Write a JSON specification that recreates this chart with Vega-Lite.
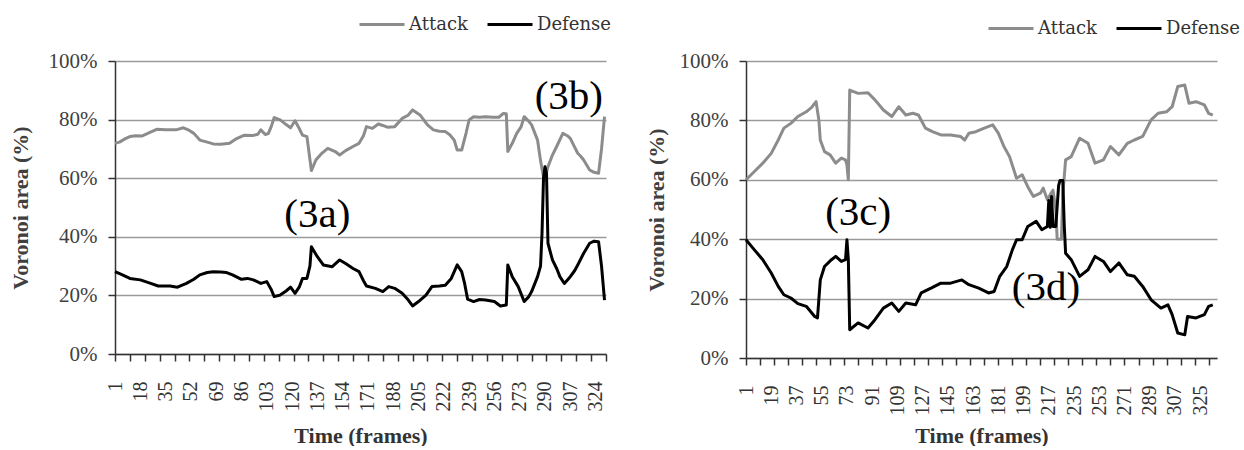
{
  "$schema": "https://vega.github.io/schema/vega-lite/v6.json",
  "autosize": {"type": "pad"},
  "padding": {"left": 9, "top": 0, "right": 0, "bottom": 0},
  "bounds": "flush",
  "spacing": 140,
  "background": "white",
  "config": {
    "view": {"stroke": null},
    "axis": {"labelFont": "Liberation Serif, Tinos, Times New Roman, serif", "titleFont": "Liberation Serif, Tinos, Times New Roman, serif"},
    "legend": {"padding": 0}
  },
  "datasets": {
    "left": [
      {"frame":1,"series":"Attack","value":0.719},{"frame":4,"series":"Attack","value":0.723},{"frame":8,"series":"Attack","value":0.735},{"frame":11,"series":"Attack","value":0.742},{"frame":15,"series":"Attack","value":0.745},{"frame":19,"series":"Attack","value":0.744},{"frame":23,"series":"Attack","value":0.753},{"frame":29,"series":"Attack","value":0.767},{"frame":35,"series":"Attack","value":0.765},{"frame":42,"series":"Attack","value":0.765},{"frame":47,"series":"Attack","value":0.772},{"frame":51,"series":"Attack","value":0.763},{"frame":54,"series":"Attack","value":0.753},{"frame":58,"series":"Attack","value":0.730},{"frame":63,"series":"Attack","value":0.723},{"frame":67,"series":"Attack","value":0.717},{"frame":72,"series":"Attack","value":0.716},{"frame":78,"series":"Attack","value":0.719},{"frame":82,"series":"Attack","value":0.733},{"frame":88,"series":"Attack","value":0.747},{"frame":94,"series":"Attack","value":0.746},{"frame":97,"series":"Attack","value":0.750},{"frame":99,"series":"Attack","value":0.765},{"frame":102,"series":"Attack","value":0.749},{"frame":104,"series":"Attack","value":0.752},{"frame":106,"series":"Attack","value":0.776},{"frame":108,"series":"Attack","value":0.807},{"frame":112,"series":"Attack","value":0.799},{"frame":116,"series":"Attack","value":0.783},{"frame":119,"series":"Attack","value":0.772},{"frame":122,"series":"Attack","value":0.796},{"frame":125,"series":"Attack","value":0.768},{"frame":127,"series":"Attack","value":0.747},{"frame":130,"series":"Attack","value":0.742},{"frame":133,"series":"Attack","value":0.626},{"frame":136,"series":"Attack","value":0.662},{"frame":140,"series":"Attack","value":0.685},{"frame":144,"series":"Attack","value":0.702},{"frame":149,"series":"Attack","value":0.691},{"frame":152,"series":"Attack","value":0.679},{"frame":156,"series":"Attack","value":0.694},{"frame":161,"series":"Attack","value":0.708},{"frame":165,"series":"Attack","value":0.719},{"frame":168,"series":"Attack","value":0.745},{"frame":170,"series":"Attack","value":0.776},{"frame":174,"series":"Attack","value":0.770},{"frame":178,"series":"Attack","value":0.785},{"frame":181,"series":"Attack","value":0.780},{"frame":184,"series":"Attack","value":0.774},{"frame":189,"series":"Attack","value":0.776},{"frame":194,"series":"Attack","value":0.804},{"frame":198,"series":"Attack","value":0.815},{"frame":201,"series":"Attack","value":0.833},{"frame":206,"series":"Attack","value":0.816},{"frame":211,"series":"Attack","value":0.782},{"frame":215,"series":"Attack","value":0.765},{"frame":219,"series":"Attack","value":0.760},{"frame":223,"series":"Attack","value":0.759},{"frame":226,"series":"Attack","value":0.748},{"frame":229,"series":"Attack","value":0.730},{"frame":231,"series":"Attack","value":0.696},{"frame":234,"series":"Attack","value":0.696},{"frame":237,"series":"Attack","value":0.755},{"frame":239,"series":"Attack","value":0.799},{"frame":242,"series":"Attack","value":0.810},{"frame":246,"series":"Attack","value":0.808},{"frame":250,"series":"Attack","value":0.810},{"frame":255,"series":"Attack","value":0.808},{"frame":259,"series":"Attack","value":0.808},{"frame":262,"series":"Attack","value":0.821},{"frame":264,"series":"Attack","value":0.820},{"frame":265,"series":"Attack","value":0.691},{"frame":268,"series":"Attack","value":0.719},{"frame":271,"series":"Attack","value":0.753},{"frame":274,"series":"Attack","value":0.776},{"frame":276,"series":"Attack","value":0.810},{"frame":279,"series":"Attack","value":0.795},{"frame":281,"series":"Attack","value":0.782},{"frame":285,"series":"Attack","value":0.730},{"frame":287,"series":"Attack","value":0.660},{"frame":289,"series":"Attack","value":0.605},{"frame":291,"series":"Attack","value":0.620},{"frame":292,"series":"Attack","value":0.639},{"frame":295,"series":"Attack","value":0.679},{"frame":298,"series":"Attack","value":0.710},{"frame":302,"series":"Attack","value":0.753},{"frame":305,"series":"Attack","value":0.745},{"frame":307,"series":"Attack","value":0.736},{"frame":310,"series":"Attack","value":0.705},{"frame":312,"series":"Attack","value":0.685},{"frame":314,"series":"Attack","value":0.675},{"frame":316,"series":"Attack","value":0.662},{"frame":318,"series":"Attack","value":0.645},{"frame":320,"series":"Attack","value":0.628},{"frame":323,"series":"Attack","value":0.620},{"frame":326,"series":"Attack","value":0.617},{"frame":328,"series":"Attack","value":0.700},{"frame":330,"series":"Attack","value":0.810},
      {"frame":1,"series":"Defense","value":0.281},{"frame":6,"series":"Defense","value":0.270},{"frame":11,"series":"Defense","value":0.258},{"frame":18,"series":"Defense","value":0.253},{"frame":25,"series":"Defense","value":0.241},{"frame":30,"series":"Defense","value":0.232},{"frame":38,"series":"Defense","value":0.232},{"frame":43,"series":"Defense","value":0.228},{"frame":49,"series":"Defense","value":0.241},{"frame":54,"series":"Defense","value":0.255},{"frame":58,"series":"Defense","value":0.270},{"frame":63,"series":"Defense","value":0.278},{"frame":67,"series":"Defense","value":0.281},{"frame":72,"series":"Defense","value":0.280},{"frame":76,"series":"Defense","value":0.278},{"frame":80,"series":"Defense","value":0.270},{"frame":86,"series":"Defense","value":0.255},{"frame":90,"series":"Defense","value":0.258},{"frame":94,"series":"Defense","value":0.253},{"frame":99,"series":"Defense","value":0.241},{"frame":103,"series":"Defense","value":0.247},{"frame":106,"series":"Defense","value":0.220},{"frame":108,"series":"Defense","value":0.196},{"frame":112,"series":"Defense","value":0.201},{"frame":116,"series":"Defense","value":0.215},{"frame":119,"series":"Defense","value":0.228},{"frame":122,"series":"Defense","value":0.207},{"frame":125,"series":"Defense","value":0.230},{"frame":127,"series":"Defense","value":0.258},{"frame":130,"series":"Defense","value":0.258},{"frame":132,"series":"Defense","value":0.300},{"frame":133,"series":"Defense","value":0.366},{"frame":137,"series":"Defense","value":0.332},{"frame":141,"series":"Defense","value":0.304},{"frame":147,"series":"Defense","value":0.298},{"frame":152,"series":"Defense","value":0.321},{"frame":156,"series":"Defense","value":0.309},{"frame":161,"series":"Defense","value":0.292},{"frame":165,"series":"Defense","value":0.281},{"frame":168,"series":"Defense","value":0.250},{"frame":170,"series":"Defense","value":0.232},{"frame":176,"series":"Defense","value":0.224},{"frame":181,"series":"Defense","value":0.213},{"frame":185,"series":"Defense","value":0.230},{"frame":189,"series":"Defense","value":0.224},{"frame":194,"series":"Defense","value":0.207},{"frame":198,"series":"Defense","value":0.185},{"frame":201,"series":"Defense","value":0.164},{"frame":205,"series":"Defense","value":0.179},{"frame":210,"series":"Defense","value":0.201},{"frame":214,"series":"Defense","value":0.230},{"frame":219,"series":"Defense","value":0.232},{"frame":223,"series":"Defense","value":0.235},{"frame":227,"series":"Defense","value":0.258},{"frame":231,"series":"Defense","value":0.304},{"frame":234,"series":"Defense","value":0.281},{"frame":236,"series":"Defense","value":0.240},{"frame":238,"series":"Defense","value":0.187},{"frame":242,"series":"Defense","value":0.179},{"frame":246,"series":"Defense","value":0.186},{"frame":250,"series":"Defense","value":0.184},{"frame":256,"series":"Defense","value":0.179},{"frame":260,"series":"Defense","value":0.164},{"frame":264,"series":"Defense","value":0.167},{"frame":265,"series":"Defense","value":0.304},{"frame":268,"series":"Defense","value":0.264},{"frame":272,"series":"Defense","value":0.230},{"frame":276,"series":"Defense","value":0.179},{"frame":279,"series":"Defense","value":0.195},{"frame":281,"series":"Defense","value":0.213},{"frame":285,"series":"Defense","value":0.264},{"frame":287,"series":"Defense","value":0.300},{"frame":288,"series":"Defense","value":0.412},{"frame":289,"series":"Defense","value":0.600},{"frame":290,"series":"Defense","value":0.639},{"frame":291,"series":"Defense","value":0.617},{"frame":292,"series":"Defense","value":0.378},{"frame":295,"series":"Defense","value":0.321},{"frame":298,"series":"Defense","value":0.290},{"frame":300,"series":"Defense","value":0.264},{"frame":303,"series":"Defense","value":0.241},{"frame":307,"series":"Defense","value":0.264},{"frame":310,"series":"Defense","value":0.285},{"frame":312,"series":"Defense","value":0.304},{"frame":316,"series":"Defense","value":0.344},{"frame":320,"series":"Defense","value":0.378},{"frame":323,"series":"Defense","value":0.385},{"frame":326,"series":"Defense","value":0.383},{"frame":328,"series":"Defense","value":0.300},{"frame":330,"series":"Defense","value":0.184}
    ],
    "right": [
      {"frame":1,"series":"Attack","value":0.600},{"frame":7,"series":"Attack","value":0.628},{"frame":13,"series":"Attack","value":0.656},{"frame":19,"series":"Attack","value":0.689},{"frame":24,"series":"Attack","value":0.734},{"frame":28,"series":"Attack","value":0.774},{"frame":33,"series":"Attack","value":0.790},{"frame":38,"series":"Attack","value":0.813},{"frame":44,"series":"Attack","value":0.829},{"frame":48,"series":"Attack","value":0.845},{"frame":51,"series":"Attack","value":0.863},{"frame":53,"series":"Attack","value":0.800},{"frame":54,"series":"Attack","value":0.734},{"frame":57,"series":"Attack","value":0.695},{"frame":61,"series":"Attack","value":0.684},{"frame":65,"series":"Attack","value":0.656},{"frame":69,"series":"Attack","value":0.673},{"frame":72,"series":"Attack","value":0.667},{"frame":73,"series":"Attack","value":0.650},{"frame":74,"series":"Attack","value":0.600},{"frame":75,"series":"Attack","value":0.902},{"frame":81,"series":"Attack","value":0.891},{"frame":88,"series":"Attack","value":0.893},{"frame":93,"series":"Attack","value":0.869},{"frame":99,"series":"Attack","value":0.835},{"frame":105,"series":"Attack","value":0.813},{"frame":110,"series":"Attack","value":0.846},{"frame":115,"series":"Attack","value":0.818},{"frame":120,"series":"Attack","value":0.824},{"frame":124,"series":"Attack","value":0.818},{"frame":129,"series":"Attack","value":0.774},{"frame":134,"series":"Attack","value":0.762},{"frame":140,"series":"Attack","value":0.751},{"frame":147,"series":"Attack","value":0.751},{"frame":154,"series":"Attack","value":0.746},{"frame":157,"series":"Attack","value":0.734},{"frame":160,"series":"Attack","value":0.757},{"frame":165,"series":"Attack","value":0.762},{"frame":171,"series":"Attack","value":0.774},{"frame":177,"series":"Attack","value":0.785},{"frame":181,"series":"Attack","value":0.757},{"frame":185,"series":"Attack","value":0.712},{"frame":189,"series":"Attack","value":0.678},{"frame":194,"series":"Attack","value":0.605},{"frame":198,"series":"Attack","value":0.617},{"frame":202,"series":"Attack","value":0.577},{"frame":206,"series":"Attack","value":0.544},{"frame":211,"series":"Attack","value":0.555},{"frame":213,"series":"Attack","value":0.572},{"frame":216,"series":"Attack","value":0.533},{"frame":218,"series":"Attack","value":0.550},{"frame":220,"series":"Attack","value":0.565},{"frame":222,"series":"Attack","value":0.500},{"frame":223,"series":"Attack","value":0.400},{"frame":226,"series":"Attack","value":0.400},{"frame":227,"series":"Attack","value":0.550},{"frame":229,"series":"Attack","value":0.667},{"frame":233,"series":"Attack","value":0.678},{"frame":239,"series":"Attack","value":0.740},{"frame":245,"series":"Attack","value":0.723},{"frame":250,"series":"Attack","value":0.656},{"frame":256,"series":"Attack","value":0.667},{"frame":261,"series":"Attack","value":0.712},{"frame":267,"series":"Attack","value":0.684},{"frame":273,"series":"Attack","value":0.723},{"frame":278,"series":"Attack","value":0.734},{"frame":284,"series":"Attack","value":0.746},{"frame":290,"series":"Attack","value":0.802},{"frame":295,"series":"Attack","value":0.824},{"frame":301,"series":"Attack","value":0.829},{"frame":305,"series":"Attack","value":0.846},{"frame":309,"series":"Attack","value":0.914},{"frame":314,"series":"Attack","value":0.919},{"frame":317,"series":"Attack","value":0.858},{"frame":322,"series":"Attack","value":0.863},{"frame":328,"series":"Attack","value":0.852},{"frame":331,"series":"Attack","value":0.824},{"frame":334,"series":"Attack","value":0.818},
      {"frame":1,"series":"Defense","value":0.398},{"frame":7,"series":"Defense","value":0.364},{"frame":13,"series":"Defense","value":0.331},{"frame":19,"series":"Defense","value":0.286},{"frame":24,"series":"Defense","value":0.241},{"frame":28,"series":"Defense","value":0.213},{"frame":33,"series":"Defense","value":0.202},{"frame":38,"series":"Defense","value":0.183},{"frame":44,"series":"Defense","value":0.174},{"frame":50,"series":"Defense","value":0.140},{"frame":52,"series":"Defense","value":0.135},{"frame":54,"series":"Defense","value":0.263},{"frame":57,"series":"Defense","value":0.308},{"frame":62,"series":"Defense","value":0.331},{"frame":65,"series":"Defense","value":0.342},{"frame":69,"series":"Defense","value":0.325},{"frame":72,"series":"Defense","value":0.331},{"frame":73,"series":"Defense","value":0.398},{"frame":74,"series":"Defense","value":0.331},{"frame":75,"series":"Defense","value":0.095},{"frame":81,"series":"Defense","value":0.118},{"frame":88,"series":"Defense","value":0.101},{"frame":93,"series":"Defense","value":0.129},{"frame":99,"series":"Defense","value":0.168},{"frame":105,"series":"Defense","value":0.185},{"frame":110,"series":"Defense","value":0.157},{"frame":115,"series":"Defense","value":0.185},{"frame":122,"series":"Defense","value":0.179},{"frame":126,"series":"Defense","value":0.219},{"frame":133,"series":"Defense","value":0.235},{"frame":140,"series":"Defense","value":0.252},{"frame":147,"series":"Defense","value":0.252},{"frame":155,"series":"Defense","value":0.263},{"frame":160,"series":"Defense","value":0.247},{"frame":167,"series":"Defense","value":0.235},{"frame":174,"series":"Defense","value":0.219},{"frame":178,"series":"Defense","value":0.224},{"frame":182,"series":"Defense","value":0.275},{"frame":187,"series":"Defense","value":0.308},{"frame":191,"series":"Defense","value":0.364},{"frame":194,"series":"Defense","value":0.398},{"frame":198,"series":"Defense","value":0.398},{"frame":202,"series":"Defense","value":0.443},{"frame":208,"series":"Defense","value":0.460},{"frame":212,"series":"Defense","value":0.432},{"frame":216,"series":"Defense","value":0.443},{"frame":217,"series":"Defense","value":0.530},{"frame":218,"series":"Defense","value":0.440},{"frame":219,"series":"Defense","value":0.544},{"frame":220,"series":"Defense","value":0.443},{"frame":222,"series":"Defense","value":0.443},{"frame":224,"series":"Defense","value":0.580},{"frame":225,"series":"Defense","value":0.598},{"frame":227,"series":"Defense","value":0.598},{"frame":228,"series":"Defense","value":0.450},{"frame":229,"series":"Defense","value":0.353},{"frame":233,"series":"Defense","value":0.331},{"frame":239,"series":"Defense","value":0.275},{"frame":245,"series":"Defense","value":0.297},{"frame":250,"series":"Defense","value":0.342},{"frame":256,"series":"Defense","value":0.325},{"frame":261,"series":"Defense","value":0.291},{"frame":267,"series":"Defense","value":0.320},{"frame":273,"series":"Defense","value":0.280},{"frame":278,"series":"Defense","value":0.275},{"frame":284,"series":"Defense","value":0.241},{"frame":290,"series":"Defense","value":0.196},{"frame":297,"series":"Defense","value":0.168},{"frame":302,"series":"Defense","value":0.179},{"frame":305,"series":"Defense","value":0.146},{"frame":309,"series":"Defense","value":0.084},{"frame":314,"series":"Defense","value":0.078},{"frame":316,"series":"Defense","value":0.140},{"frame":322,"series":"Defense","value":0.135},{"frame":328,"series":"Defense","value":0.146},{"frame":331,"series":"Defense","value":0.174},{"frame":334,"series":"Defense","value":0.179}
    ],
    "leftNotes": [
      {"frame":137,"value":0.474,"label":"(3a)"},
      {"frame":306,"value":0.877,"label":"(3b)"}
    ],
    "rightNotes": [
      {"frame":81,"value":0.488,"label":"(3c)"},
      {"frame":215,"value":0.236,"label":"(3d)"}
    ]
  },
  "resolve": {
    "scale": {"color": "independent", "x": "independent", "y": "independent"},
    "legend": {"color": "independent"}
  },
  "hconcat": [
    {
      "width": 491,
      "height": 293,
      "resolve": {"axis": {"x": "independent"}},
      "layer": [
        {
          "data": {"name": "left"},
          "mark": {"type": "line", "strokeWidth": 3, "strokeJoin": "round"},
          "encoding": {
            "x": {
              "field": "frame", "type": "quantitative",
              "scale": {"domain": [1, 331], "nice": false, "zero": false},
              "axis": {
                "orient": "bottom",
                "values": [1,18,35,52,69,86,103,120,137,154,171,188,205,222,239,256,273,290,307,324],
                "ticks": false, "grid": false,
                "domain": true, "domainColor": "#333333", "domainWidth": 1.5,
                "labelAngle": 270, "labelFontSize": 20, "labelColor": "#333333", "labelPadding": 27,
                "labelOverlap": false, "labelBound": false, "labelFlush": false,
                "title": "Time (frames)", "titleFontSize": 22, "titleFontWeight": "bold", "titleColor": "#333333", "titlePadding": 14
              }
            },
            "y": {
              "field": "value", "type": "quantitative",
              "scale": {"domain": [0, 1], "nice": false},
              "axis": {
                "values": [0, 0.2, 0.4, 0.6, 0.8, 1],
                "format": ".0%",
                "grid": true, "gridColor": "#9a9a9a", "gridWidth": 1.5,
                "domain": true, "domainColor": "#333333", "domainWidth": 1.5,
                "ticks": true, "tickSize": 7, "tickColor": "#333333", "tickWidth": 1.5,
                "labelFontSize": 21, "labelColor": "#404040", "labelPadding": 11,
                "title": "Voronoi area (%)", "titleFontSize": 22, "titleFontWeight": "bold", "titleColor": "#404040", "titlePadding": 16
              }
            },
            "color": {
              "field": "series", "type": "nominal",
              "scale": {"domain": ["Attack", "Defense"], "range": ["#8c8c8c", "#000000"]},
              "legend": {
                "orient": "none", "legendX": 243, "legendY": -60.5, "direction": "horizontal",
                "title": null, "symbolType": "stroke", "symbolSize": 2025, "symbolStrokeWidth": 3,
                "labelFont": "DejaVu Serif", "labelFontSize": 18, "labelColor": "#333333",
                "labelOffset": 3, "columnPadding": 13
              }
            }
          }
        },
        {
          "data": {"name": "leftNotes"},
          "mark": {"type": "text", "font": "Liberation Serif, Tinos, Times New Roman, serif", "fontSize": 41, "align": "center", "baseline": "middle", "color": "#000000"},
          "encoding": {
            "x": {
              "field": "frame", "type": "quantitative",
              "scale": {"domain": [1, 331], "nice": false, "zero": false},
              "axis": {
                "orient": "bottom",
                "values": [1,11,21,31,41,51,61,71,81,91,101,111,121,131,141,151,161,171,181,191,201,211,221,231,241,251,261,271,281,291,301,311,321,331],
                "labels": false, "domain": false, "grid": false, "title": null,
                "ticks": true, "tickSize": 7, "tickColor": "#333333", "tickWidth": 1.5
              }
            },
            "y": {"field": "value", "type": "quantitative", "scale": {"domain": [0, 1], "nice": false}, "title": "Voronoi area (%)"},
            "text": {"field": "label"}
          }
        }
      ]
    },
    {
      "width": 471,
      "height": 297,
      "resolve": {"axis": {"x": "independent"}},
      "layer": [
        {
          "data": {"name": "right"},
          "mark": {"type": "line", "strokeWidth": 3, "strokeJoin": "round"},
          "encoding": {
            "x": {
              "field": "frame", "type": "quantitative",
              "scale": {"domain": [1, 337], "nice": false, "zero": false},
              "axis": {
                "orient": "bottom",
                "values": [1,19,37,55,73,91,109,127,145,163,181,199,217,235,253,271,289,307,325],
                "ticks": false, "grid": false,
                "domain": true, "domainColor": "#333333", "domainWidth": 1.5,
                "labelAngle": 270, "labelFontSize": 20, "labelColor": "#333333", "labelPadding": 27,
                "labelOverlap": false, "labelBound": false, "labelFlush": false,
                "title": "Time (frames)", "titleFontSize": 22, "titleFontWeight": "bold", "titleColor": "#333333", "titlePadding": 10
              }
            },
            "y": {
              "field": "value", "type": "quantitative",
              "scale": {"domain": [0, 1], "nice": false},
              "axis": {
                "values": [0, 0.2, 0.4, 0.6, 0.8, 1],
                "format": ".0%",
                "grid": true, "gridColor": "#9a9a9a", "gridWidth": 1.5,
                "domain": true, "domainColor": "#333333", "domainWidth": 1.5,
                "ticks": true, "tickSize": 7, "tickColor": "#333333", "tickWidth": 1.5,
                "labelFontSize": 21, "labelColor": "#404040", "labelPadding": 11,
                "title": "Voronoi area (%)", "titleFontSize": 22, "titleFontWeight": "bold", "titleColor": "#404040", "titlePadding": 11
              }
            },
            "color": {
              "field": "series", "type": "nominal",
              "scale": {"domain": ["Attack", "Defense"], "range": ["#8c8c8c", "#000000"]},
              "legend": {
                "orient": "none", "legendX": 241, "legendY": -56.5, "direction": "horizontal",
                "title": null, "symbolType": "stroke", "symbolSize": 2025, "symbolStrokeWidth": 3,
                "labelFont": "DejaVu Serif", "labelFontSize": 18, "labelColor": "#333333",
                "labelOffset": 3, "columnPadding": 13
              }
            }
          }
        },
        {
          "data": {"name": "rightNotes"},
          "mark": {"type": "text", "font": "Liberation Serif, Tinos, Times New Roman, serif", "fontSize": 41, "align": "center", "baseline": "middle", "color": "#000000"},
          "encoding": {
            "x": {
              "field": "frame", "type": "quantitative",
              "scale": {"domain": [1, 337], "nice": false, "zero": false},
              "axis": {
                "orient": "bottom",
                "values": [1,11,21,31,41,51,61,71,81,91,101,111,121,131,141,151,161,171,181,191,201,211,221,231,241,251,261,271,281,291,301,311,321,331],
                "labels": false, "domain": false, "grid": false, "title": null,
                "ticks": true, "tickSize": 7, "tickColor": "#333333", "tickWidth": 1.5
              }
            },
            "y": {"field": "value", "type": "quantitative", "scale": {"domain": [0, 1], "nice": false}, "title": "Voronoi area (%)"},
            "text": {"field": "label"}
          }
        }
      ]
    }
  ]
}
